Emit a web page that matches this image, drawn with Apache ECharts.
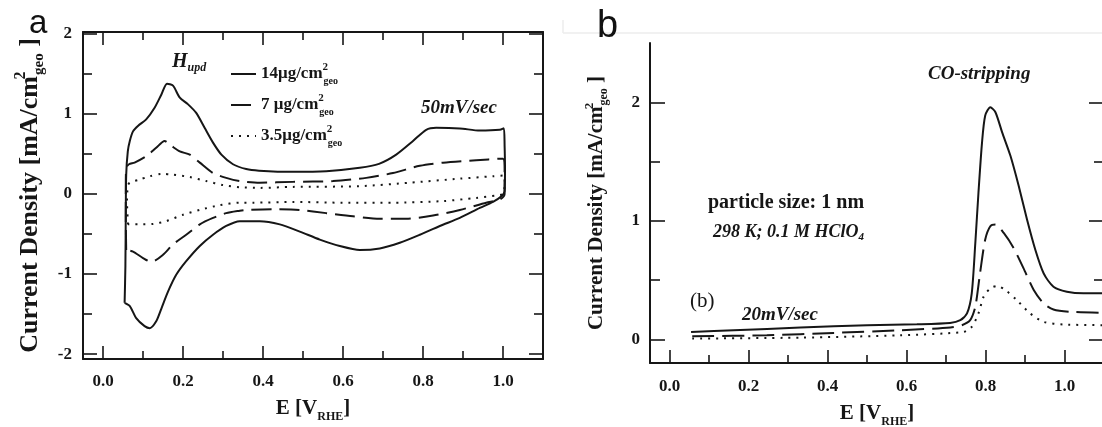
<!DOCTYPE html>
<html><head><meta charset="utf-8">
<script src="https://cdn.jsdelivr.net/npm/echarts@6/dist/echarts.min.js"></script>
<style>html,body{margin:0;padding:0;background:#fff}#c{width:1102px;height:427px}</style>
</head><body><div id="c"></div>
<script>
// ---------- data (E in V_RHE, current density in mA/cm2_geo) ----------
// panel a : cyclic voltammograms (closed loops, anodic then cathodic scan)
const cv14 = [[0.054,-1.36],[0.056,-0.9],[0.057,-0.2],[0.058,0.24],[0.062,0.53],[0.067,0.66],[0.075,0.78],[0.088,0.85],[0.108,0.93],[0.129,1.075],[0.146,1.24],[0.16,1.375],[0.175,1.35],[0.192,1.2],[0.212,1.12],[0.233,1.01],[0.254,0.825],[0.275,0.64],[0.296,0.49],[0.325,0.37],[0.358,0.31],[0.39,0.29],[0.475,0.275],[0.558,0.283],[0.642,0.325],[0.69,0.375],[0.733,0.49],[0.775,0.66],[0.808,0.80],[0.833,0.825],[0.892,0.817],[0.942,0.79],[0.992,0.80],[1.002,0.82],[1.004,0.6],[1.005,0.3],[1.004,0.033],[0.996,-0.03],[0.975,-0.10],[0.942,-0.175],[0.892,-0.30],[0.842,-0.40],[0.792,-0.51],[0.742,-0.61],[0.692,-0.68],[0.642,-0.70],[0.592,-0.65],[0.542,-0.57],[0.492,-0.47],[0.442,-0.38],[0.392,-0.34],[0.342,-0.34],[0.308,-0.40],[0.275,-0.51],[0.242,-0.65],[0.208,-0.84],[0.183,-1.01],[0.1625,-1.22],[0.146,-1.43],[0.133,-1.59],[0.117,-1.675],[0.104,-1.65],[0.083,-1.55],[0.067,-1.40],[0.054,-1.36]];
const cv7 = [[0.058,-0.70],[0.057,-0.3],[0.057,0.1],[0.058,0.325],[0.065,0.37],[0.079,0.39],[0.108,0.47],[0.133,0.575],[0.154,0.66],[0.171,0.60],[0.192,0.53],[0.217,0.49],[0.242,0.39],[0.275,0.26],[0.308,0.20],[0.342,0.16],[0.392,0.14],[0.475,0.15],[0.575,0.16],[0.658,0.20],[0.725,0.26],[0.792,0.35],[0.85,0.39],[0.933,0.42],[1.0,0.44],[1.004,0.3],[1.004,0.0],[0.992,-0.07],[0.958,-0.11],[0.892,-0.20],[0.825,-0.27],[0.758,-0.31],[0.692,-0.31],[0.625,-0.28],[0.558,-0.24],[0.492,-0.20],[0.425,-0.19],[0.358,-0.20],[0.342,-0.21],[0.308,-0.24],[0.275,-0.30],[0.242,-0.38],[0.208,-0.51],[0.175,-0.63],[0.15,-0.76],[0.121,-0.85],[0.1,-0.80],[0.075,-0.72],[0.058,-0.70]];
const cv35 = [[0.0625,-0.38],[0.06,-0.1],[0.062,0.1],[0.067,0.14],[0.092,0.18],[0.117,0.22],[0.146,0.25],[0.175,0.24],[0.217,0.21],[0.258,0.16],[0.3,0.11],[0.342,0.083],[0.392,0.075],[0.475,0.0875],[0.642,0.096],[0.767,0.14],[0.892,0.19],[0.975,0.22],[1.004,0.23],[1.004,0.1],[1.0,0.0],[0.983,-0.02],[0.933,-0.05],[0.85,-0.09],[0.725,-0.11],[0.6,-0.11],[0.475,-0.10],[0.375,-0.11],[0.342,-0.11],[0.292,-0.14],[0.242,-0.20],[0.2,-0.26],[0.158,-0.34],[0.125,-0.375],[0.092,-0.38],[0.0625,-0.38]];
// panel b : CO stripping
const co14 = [[0.054,0.062],[0.162,0.076],[0.331,0.099],[0.5,0.119],[0.626,0.127],[0.71,0.138],[0.736,0.161],[0.753,0.218],[0.765,0.388],[0.774,0.81],[0.782,1.237],[0.791,1.66],[0.799,1.887],[0.812,1.958],[0.825,1.916],[0.842,1.746],[0.863,1.548],[0.884,1.293],[0.905,1.01],[0.926,0.755],[0.947,0.557],[0.972,0.444],[1.006,0.402],[1.048,0.388],[1.1,0.388]];
const co7 = [[0.057,0.025],[0.246,0.034],[0.415,0.054],[0.584,0.076],[0.711,0.1],[0.74,0.119],[0.761,0.161],[0.774,0.274],[0.786,0.557],[0.799,0.84],[0.812,0.954],[0.825,0.968],[0.846,0.897],[0.871,0.77],[0.896,0.6],[0.922,0.416],[0.947,0.303],[0.972,0.252],[1.014,0.232],[1.1,0.224]];
const co35 = [[0.057,0.006],[0.331,0.014],[0.584,0.034],[0.744,0.062],[0.765,0.105],[0.782,0.218],[0.795,0.359],[0.812,0.43],[0.829,0.45],[0.85,0.416],[0.879,0.331],[0.913,0.218],[0.947,0.147],[0.997,0.125],[1.1,0.119]];

const seriesNames = ['14μg', '7μg', '3.5μg'];
const legendLabels = ['14μg/cm{sup|2}{sub|geo}', '7 μg/cm{sup|2}{sub|geo}', '3.5μg/cm{sup|2}{sub|geo}'];
const xMajor = [0, 0.2, 0.4, 0.6, 0.8, 1.0];
const xMinor = [0.1, 0.3, 0.5, 0.7, 0.9];
const yMajorA = [-2, -1, 0, 1, 2];
const yMinorA = [-1.5, -0.5, 0.5, 1.5];
const yMajorB = [0, 1, 2];
const yMinorB = [0.5, 1.5];

// ---------- styling ----------
const SERIF = '"Liberation Serif", "Times New Roman", serif';
const INK = '#161616';
const supSub = (base) => ({
  sup: {fontFamily: SERIF, fontWeight: 'bold', fontSize: Math.round(base * 0.62), verticalAlign: 'top', lineHeight: Math.round(base * 0.62), width: 1, color: INK},
  sub: {fontFamily: SERIF, fontWeight: 'bold', fontSize: Math.round(base * 0.58), verticalAlign: 'bottom', lineHeight: Math.round(base * 0.6), color: INK}
});

function xAxisDef(grid, pos, ticks, len, opts) {
  opts = opts || {};
  return {
    type: 'value', gridIndex: grid, position: pos, min: -0.05, max: 1.1,
    axisLine: {show: !!opts.line, onZero: false, lineStyle: {color: INK, width: 2}},
    axisTick: {show: true, inside: true, length: len, customValues: ticks, lineStyle: {color: INK, width: 1.6}},
    axisLabel: opts.labels ? {show: true, customValues: xMajor, formatter: v => v.toFixed(1), margin: opts.margin,
      fontFamily: SERIF, fontWeight: 'bold', fontSize: 17, color: INK} : {show: false},
    splitLine: {show: false},
    name: opts.name, nameLocation: 'middle', nameGap: opts.nameGap,
    nameTextStyle: {fontFamily: SERIF, fontWeight: 'bold', fontSize: opts.nameSize || 21, color: INK, lineHeight: 28, rich: supSub(opts.nameSize || 21)}
  };
}
function yAxisDef(grid, pos, min, max, ticks, len, opts) {
  opts = opts || {};
  const ns = opts.nameSize || 22;
  return {
    type: 'value', gridIndex: grid, position: pos, min: min, max: max,
    axisLine: {show: !!opts.line, onZero: false, lineStyle: {color: INK, width: 2}},
    axisTick: {show: true, inside: true, length: len, customValues: ticks, lineStyle: {color: INK, width: 1.6}},
    axisLabel: opts.labels ? {show: true, customValues: opts.labels, formatter: v => String(v), margin: opts.margin,
      fontFamily: SERIF, fontWeight: 'bold', fontSize: 17, color: INK} : {show: false},
    splitLine: {show: false},
    name: opts.name, nameLocation: 'middle', nameRotate: 90, nameGap: opts.nameGap,
    nameTextStyle: {fontFamily: SERIF, fontWeight: 'bold', fontSize: ns, color: INK, lineHeight: Math.round(ns * 1.3), rich: supSub(ns)}
  };
}

const xTitle = 'E [V{sub|RHE}]';
const yTitle = 'Current Density [mA/cm{sup|2}{sub|geo} ]';

function lineSeries(name, data, xi, yi, type, width) {
  return {type: 'line', name: name, data: data, xAxisIndex: xi, yAxisIndex: yi,
    symbol: 'none', showSymbol: false, smooth: 0.25, animation: false, silent: true,
    itemStyle: {color: INK},
    lineStyle: {color: INK, width: width, type: type, cap: 'butt'}};
}

const option = {
  backgroundColor: '#ffffff',
  animation: false,
  grid: [
    {left: 83, right: 559, top: 32, bottom: 68, containLabel: false, outerBoundsMode: 'none'},
    {left: 650, right: -2, top: 43, bottom: 64, containLabel: false, outerBoundsMode: 'none'}
  ],
  xAxis: [
    xAxisDef(0, 'bottom', xMajor, 13, {line: true, labels: true, margin: 14, name: xTitle, nameGap: 32}),
    xAxisDef(0, 'bottom', xMinor, 8),
    xAxisDef(0, 'top', xMajor, 13, {line: true}),
    xAxisDef(0, 'top', xMinor, 8),
    xAxisDef(1, 'bottom', xMajor, 13, {line: true, labels: true, margin: 15, name: xTitle, nameGap: 24}),
    xAxisDef(1, 'bottom', xMinor, 8)
  ],
  yAxis: [
    yAxisDef(0, 'left', -2.06, 2.02, yMajorA, 14, {line: true, labels: yMajorA, margin: 11, name: yTitle, nameGap: 36, nameSize: 26}),
    yAxisDef(0, 'left', -2.06, 2.02, yMinorA, 9),
    yAxisDef(0, 'right', -2.06, 2.02, yMajorA, 14, {line: true}),
    yAxisDef(0, 'right', -2.06, 2.02, yMinorA, 9),
    yAxisDef(1, 'left', -0.2, 2.5, yMajorB, 15, {line: true, labels: yMajorB, margin: 10, name: yTitle, nameGap: 40, nameSize: 21}),
    yAxisDef(1, 'left', -0.2, 2.5, yMinorB, 10),
    yAxisDef(1, 'right', -0.2, 2.5, yMajorB, 15, {line: true}),
    yAxisDef(1, 'right', -0.2, 2.5, yMinorB, 10)
  ],
  legend: {
    data: seriesNames, orient: 'vertical', left: 230, top: 62, padding: 0, itemGap: 7,
    itemWidth: 25, itemHeight: 12, selectedMode: false,
    itemStyle: {color: 'transparent', opacity: 0, borderWidth: 0},
    formatter: name => legendLabels[seriesNames.indexOf(name)],
    textStyle: {fontFamily: SERIF, fontWeight: 'bold', fontSize: 17, color: INK, lineHeight: 24, rich: supSub(17)}
  },
  series: [
    lineSeries(seriesNames[0], cv14, 0, 0, 'solid', 2),
    lineSeries(seriesNames[1], cv7, 0, 0, [20, 8], 2),
    lineSeries(seriesNames[2], cv35, 0, 0, [2, 6], 2),
    lineSeries('b14', co14, 4, 4, 'solid', 2),
    lineSeries('b7', co7, 4, 4, [22, 8], 2),
    lineSeries('b35', co35, 4, 4, [2, 6], 2)
  ],
  graphic: [
    {type: 'line', shape: {x1: 563, y1: 33, x2: 1102, y2: 33}, style: {stroke: '#ececec', lineWidth: 1.5}, silent: true},
    {type: 'line', shape: {x1: 563, y1: 20, x2: 563, y2: 33}, style: {stroke: '#ececec', lineWidth: 1.5}, silent: true},
    {type: 'text', x: 29, y: 40, style: {text: 'a', font: '33px "Liberation Sans", Arial, sans-serif', fill: '#111', align: 'left', verticalAlign: 'bottom'}},
    {type: 'text', x: 597, y: 46, style: {text: 'b', font: '38px "Liberation Sans", Arial, sans-serif', fill: '#111', align: 'left', verticalAlign: 'bottom'}},
    {type: 'text', x: 172, y: 63, style: {text: '{h|H}{s|upd}', align: 'left', verticalAlign: 'middle',
      rich: {h: {fontFamily: SERIF, fontWeight: 'bold', fontStyle: 'italic', fontSize: 20, fill: INK, lineHeight: 22, verticalAlign: 'top'},
             s: {fontFamily: SERIF, fontWeight: 'bold', fontStyle: 'italic', fontSize: 12, fill: INK, lineHeight: 12, verticalAlign: 'bottom'}}}},
    {type: 'text', x: 421, y: 108, style: {text: '50mV/sec', font: 'italic bold 19px ' + SERIF, fill: INK, align: 'left', verticalAlign: 'middle'}},
    {type: 'text', x: 928, y: 74, style: {text: 'CO-stripping', font: 'italic bold 19px ' + SERIF, fill: INK, align: 'left', verticalAlign: 'middle'}},
    {type: 'text', x: 708, y: 203, style: {text: 'particle size: 1 nm', font: 'bold 20px ' + SERIF, fill: INK, align: 'left', verticalAlign: 'middle'}},
    {type: 'text', x: 713, y: 232, style: {text: '{m|298 K; 0.1 M HClO}{s|4}', align: 'left', verticalAlign: 'middle',
      rich: {m: {fontFamily: SERIF, fontWeight: 'bold', fontStyle: 'italic', fontSize: 18, fill: INK, lineHeight: 22, verticalAlign: 'middle'},
             s: {fontFamily: SERIF, fontWeight: 'bold', fontStyle: 'italic', fontSize: 11, fill: INK, lineHeight: 11, verticalAlign: 'bottom'}}}},
    {type: 'text', x: 690, y: 301, style: {text: '(b)', font: '21px ' + SERIF, fill: INK, align: 'left', verticalAlign: 'middle'}},
    {type: 'text', x: 742, y: 315, style: {text: '20mV/sec', font: 'italic bold 19px ' + SERIF, fill: INK, align: 'left', verticalAlign: 'middle'}}
  ]
};

const chart = echarts.init(document.getElementById('c'), null, {renderer: 'canvas'});
chart.setOption(option);
</script>
</body></html>
